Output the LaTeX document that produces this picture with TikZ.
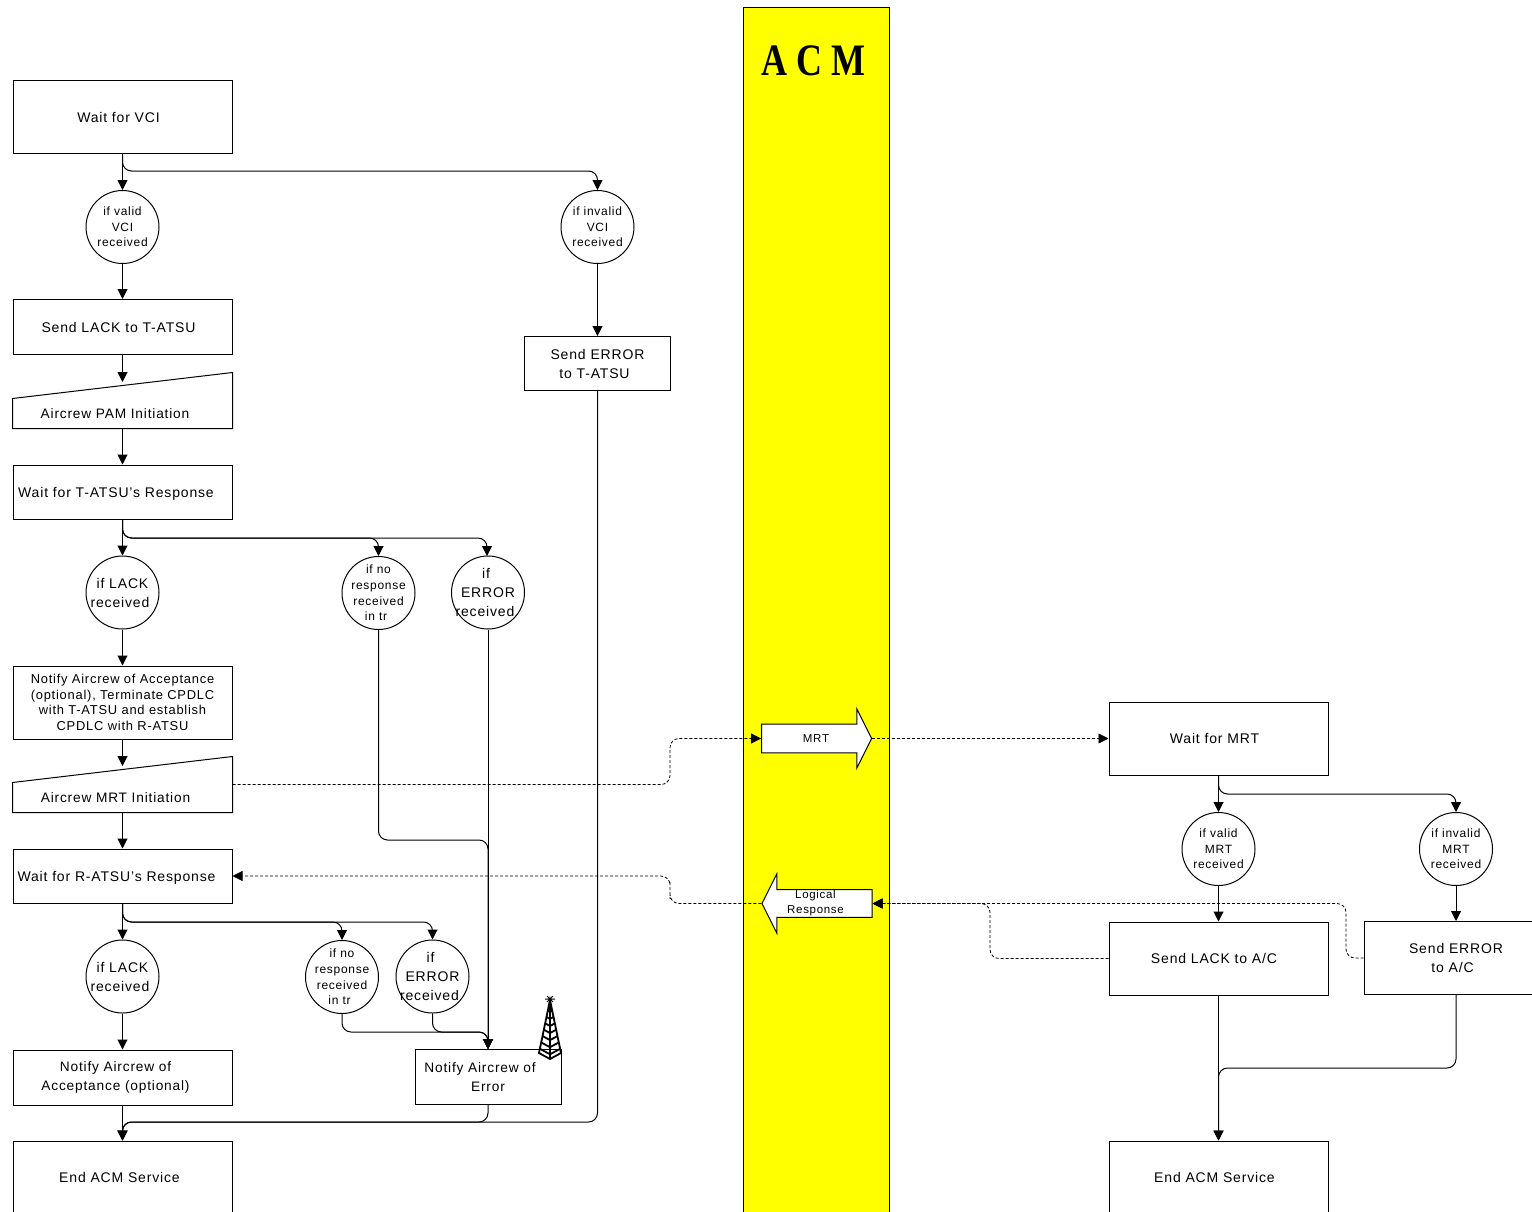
\documentclass[tikz,border=0pt]{standalone}
\usepackage{fontspec}
\setmainfont[LetterSpace=6]{Liberation Sans}
\newfontfamily\titlefont{Liberation Serif}
\usetikzlibrary{arrows.meta,shapes.arrows,calc}
\definecolor{acmyellow}{RGB}{255,255,0}
\tikzset{
	procbox/.style={draw, align=center, inner sep=0pt, minimum width=219pt, font=\fontsize{14}{19}\selectfont},
	testnode/.style={draw, circle, align=center, inner sep=-10pt, minimum size=73pt, font=\fontsize{12}{15.6}\selectfont},
	bigtest/.style={testnode, font=\fontsize{14}{19}\selectfont},
	slantlabel/.style={inner sep=0pt, font=\fontsize{13.7}{19}\selectfont},
	flow/.style={draw, line width=1pt, rounded corners=9pt, -{Triangle[length=10pt,width=10pt]}},
	msgflow/.style={flow, densely dashed, line width=0.8pt},
	blockarrow/.style={draw, fill=white, single arrow, minimum height=110pt, minimum width=59pt, single arrow head extend=15pt, single arrow tip angle=127, inner sep=0pt, align=center, font=\fontsize{11.5}{15}\selectfont},
}
\begin{document}
\begin{tikzpicture}[x=1pt,y=-1pt,line width=1pt]
	\clip (0,0) rectangle (1532,1211);
	% ACM column
	\draw [fill=acmyellow] (743.5,7) rectangle (889,1230);
	\node (acm) [inner sep=0pt, xscale=0.8, transform shape, font=\titlefont\bfseries\fontsize{45}{45}\selectfont] at (813.5,61) {A C M};
	% left column
	\node (vci) [procbox, minimum height=73pt] at (122.5,117) {Wait for VCI\hspace*{8pt}};
	\node (validvci) [testnode] at (122.5,227) {if valid\\VCI\\received};
	\node (invalidvci) [testnode] at (597.5,227) {if invalid\\VCI\\received};
	\node (lackt) [procbox, minimum height=55pt] at (122.5,327) {Send LACK to T-ATSU\hspace*{8pt}};
	\node (errort) [procbox, minimum width=146pt, minimum height=54pt] at (597.5,363.5) {Send ERROR\\to T-ATSU\hspace*{6pt}};
	\node (pam) [minimum width=219pt, minimum height=55pt, inner sep=0pt] at (122.5,400.5) {};
	\draw (pam.south west) -- (pam.south east) -- (pam.north east) -- ($(pam.north west)+(0,26)$) -- cycle;
	\node (pamtext) [slantlabel] at (115,414) {Aircrew PAM Initiation};
	\node (waitt) [procbox, minimum height=54pt, text height=10pt, text depth=0pt] at (122.5,492) {Wait for T-ATSU's Response\hspace*{13pt}};
	\node (lack) [bigtest] at (122.5,592.5) {if LACK\\received\hspace*{5pt}};
	\node (noresp) [testnode] at (378.5,593) {if no\\response\\received\\in tr\hspace*{5pt}};
	\node (err) [bigtest] at (488,592.5) {if\hspace*{4pt}\\ERROR\\received\hspace*{6pt}};
	\node (notifyacc) [procbox, minimum height=73pt, font=\fontsize{12.9}{15.5}\selectfont] at (122.5,702.5) {Notify Aircrew of Acceptance\\(optional), Terminate CPDLC\\with T-ATSU and establish\\CPDLC with R-ATSU};
	\node (mrtinit) [minimum width=219pt, minimum height=55pt, inner sep=0pt] at (122.5,784.5) {};
	\draw (mrtinit.south west) -- (mrtinit.south east) -- (mrtinit.north east) -- ($(mrtinit.north west)+(0,26)$) -- cycle;
	\node (mrttext) [slantlabel] at (115.5,798) {Aircrew MRT Initiation};
	\node (waitr) [procbox, minimum height=54pt, text height=10pt, text depth=0pt] at (122.5,876) {Wait for R-ATSU's Response\hspace*{12pt}};
	\node (lacktwo) [bigtest] at (122.5,976.5) {if LACK\\received\hspace*{5pt}};
	\node (noresptwo) [testnode] at (342,977) {if no\\response\\received\\in tr\hspace*{5pt}};
	\node (errtwo) [bigtest] at (432.5,976.5) {if\hspace*{4pt}\\ERROR\\received\hspace*{6pt}};
	\node (optional) [procbox, minimum height=55pt, font=\fontsize{13.7}{19}\selectfont] at (122.5,1077.5) {Notify Aircrew of\hspace*{14pt}\\Acceptance (optional)\hspace*{14pt}};
	\node (notifyerr) [procbox, minimum width=146pt, minimum height=55pt, font=\fontsize{13.7}{19}\selectfont] at (488,1077) {Notify Aircrew of\hspace*{16pt}\\Error};
	\node (endleft) [procbox, minimum height=73pt] at (122.5,1177.5) {End ACM Service\hspace*{6pt}};
	% tower on the error box
	\begin{scope}[line width=1.8pt]
		\draw (550,1000) -- (539,1053) -- (550,1059) -- (561,1053) -- cycle;
		\draw (550,1000) -- (550,1059);
		\foreach \t in {0.2,0.32,0.44,0.56,0.68,0.8,0.92} {
			\draw ($(550,1000)!\t!(539,1053)$) -- ($(550,1000)!\t!(550,1059)$) -- ($(550,1000)!\t!(561,1053)$);
		}
		\draw [line width=1pt] (545,999) -- (555,999) (547,996) -- (553,1002) (553,996) -- (547,1002);
	\end{scope}
	% right column
	\node (waitmrt) [procbox, minimum height=73pt] at (1218.5,738.5) {Wait for MRT\hspace*{8pt}};
	\node (validmrt) [testnode] at (1218.5,849) {if valid\\MRT\\received};
	\node (invalidmrt) [testnode] at (1456,849) {if invalid\\MRT\\received};
	\node (lackac) [procbox, minimum height=73pt] at (1218.5,958.5) {Send LACK to A/C\hspace*{9pt}};
	\node (errorac) [procbox, minimum width=184pt, minimum height=73pt] at (1456,958) {Send ERROR\\to A/C\hspace*{7pt}};
	\node (endright) [procbox, minimum height=73pt] at (1218.5,1177.5) {End ACM Service\hspace*{8pt}};
	% block arrows
	\node (mrt) [blockarrow, inner ysep=10pt] at (813,738.5) {\hspace*{6pt}MRT};
	\node (logical) [blockarrow, shape border rotate=180] at (820.5,903.5) {Logical\hspace*{10pt}\\Response\hspace*{10pt}};
	% left column flow
	\path [flow] (vci.south) -- (validvci.north);
	\path [flow] (vci.south) |- (360,171) -| (invalidvci.north);
	\path [flow] (validvci.south) -- (lackt.north);
	\path [flow] (invalidvci.south) -- (errort.north);
	\path [flow] (lackt.south) -- (122.5,382);
	\path [flow] (pam.south) -- (waitt.north);
	\path [flow] (waitt.south) -- (lack.north);
	\path [flow] (waitt.south) |- (300,538) -| (noresp.north);
	\path [flow] (waitt.south) |- (300,538) -| (487,556);
	\path [flow] (lack.south) -- (notifyacc.north);
	\path [flow] (notifyacc.south) -- (122.5,766);
	\path [flow] (mrtinit.south) -- (waitr.north);
	\path [flow] (waitr.south) -- (lacktwo.north);
	\path [flow] (waitr.south) |- (300,922) -| (noresptwo.north);
	\path [flow] (waitr.south) |- (300,922) -| (errtwo.north);
	\path [flow] (lacktwo.south) -- (optional.north);
	\path [flow] (noresp.south) |- (430,840) -| (notifyerr.north);
	\path [flow] (err.south) -- (notifyerr.north);
	\path [flow] (noresptwo.south) |- (420,1032) -| (notifyerr.north);
	\path [flow] (errtwo.south) |- (460,1032) -| (notifyerr.north);
	\path [flow] (optional.south) -- (endleft.north);
	\path [flow] (notifyerr.south) |- (300,1122) -| (endleft.north);
	\path [flow] (errort.south) |- (300,1122) -| (endleft.north);
	% messages
	\path [msgflow] (mrtinit.east) -| (670,760) |- (mrt.tail);
	\path [msgflow] (mrt.tip) -- (waitmrt.west);
	\path [msgflow] (logical.tip) -| (670,890) |- (waitr.east);
	\path [msgflow] (lackac.west) -| (990,930) |- (logical.tail);
	\path [msgflow] (errorac.west) -| (1346,930) |- (logical.tail);
	% right column flow
	\path [flow] (waitmrt.south) -- (validmrt.north);
	\path [flow] (waitmrt.south) |- (1340,794) -| (invalidmrt.north);
	\path [flow] (validmrt.south) -- (lackac.north);
	\path [flow] (invalidmrt.south) -- (errorac.north);
	\path [flow] (lackac.south) -- (endright.north);
	\path [flow] (errorac.south) |- (1340,1068) -| (endright.north);
\end{tikzpicture}
\end{document}
